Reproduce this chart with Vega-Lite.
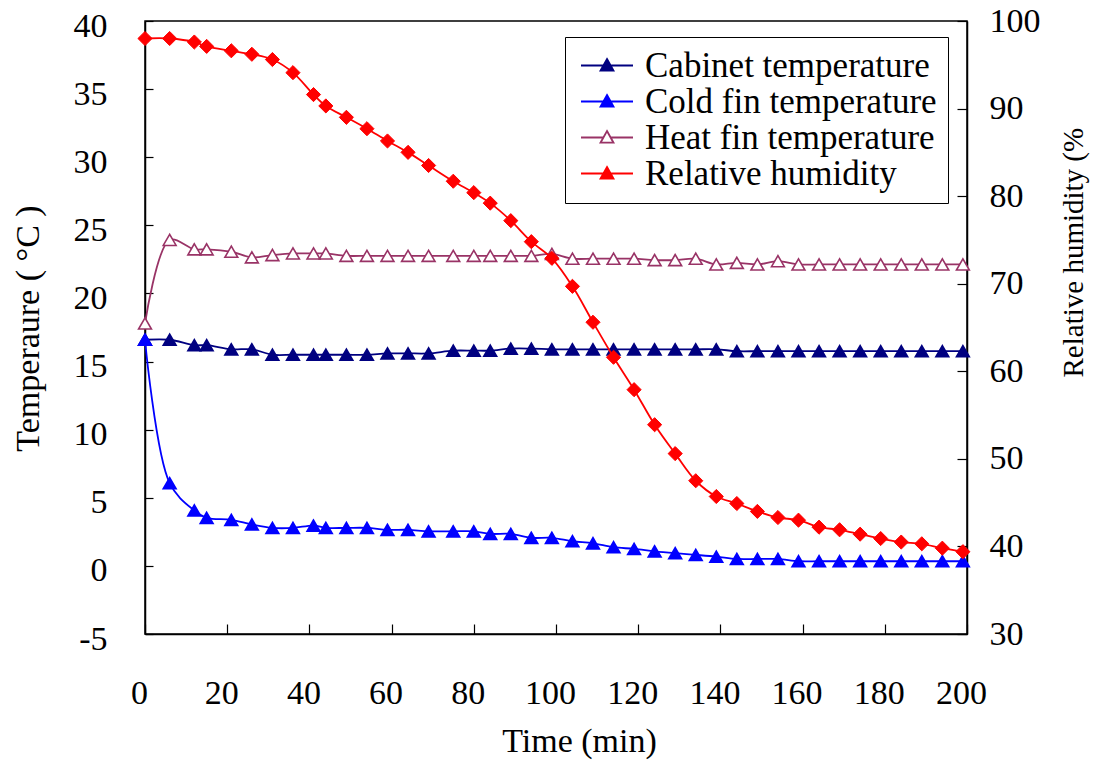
{
  "$schema": "https://vega.github.io/schema/vega-lite/v6.json",
  "width": 822,
  "height": 613,
  "autosize": "none",
  "padding": {"left": 145, "top": 21, "right": 131, "bottom": 126},
  "background": "white",
  "config": {
    "view": {"stroke": "black", "strokeWidth": 1.5},
    "font": "Liberation Serif",
    "axis": {"grid": false, "domainColor": "black", "domainWidth": 1.5, "tickColor": "black", "tickWidth": 1.2, "labelFont": "Liberation Serif", "labelFontSize": 34, "labelColor": "black", "titleFont": "Liberation Serif", "titleFontSize": 34, "titleFontWeight": "normal", "titleColor": "black", "labelFlush": false},
    "legend": {"orient": "none", "legendX": 420, "legendY": 16, "strokeColor": "black", "fillColor": "white", "padding": 11, "symbolOffset": 4, "symbolSize": 2704, "symbolStrokeWidth": 1.8, "symbolType": "M-1,0H-0.14M0.14,0H1M0,-0.25L0.25,0.2L-0.25,0.2Z", "labelFont": "Liberation Serif", "labelFontSize": 35, "labelColor": "black", "labelOffset": 11, "labelLimit": 600, "clipHeight": 35, "rowPadding": 0}
  },
  "data": {"values": [
    {"t": 0, "series": "Cabinet temperature", "value": 16.6},
    {"t": 6, "series": "Cabinet temperature", "value": 16.6},
    {"t": 12, "series": "Cabinet temperature", "value": 16.2},
    {"t": 15, "series": "Cabinet temperature", "value": 16.2},
    {"t": 21, "series": "Cabinet temperature", "value": 15.9},
    {"t": 26, "series": "Cabinet temperature", "value": 15.9},
    {"t": 31, "series": "Cabinet temperature", "value": 15.5},
    {"t": 36, "series": "Cabinet temperature", "value": 15.5},
    {"t": 41, "series": "Cabinet temperature", "value": 15.5},
    {"t": 44, "series": "Cabinet temperature", "value": 15.5},
    {"t": 49, "series": "Cabinet temperature", "value": 15.5},
    {"t": 54, "series": "Cabinet temperature", "value": 15.5},
    {"t": 59, "series": "Cabinet temperature", "value": 15.6},
    {"t": 64, "series": "Cabinet temperature", "value": 15.6},
    {"t": 69, "series": "Cabinet temperature", "value": 15.6},
    {"t": 75, "series": "Cabinet temperature", "value": 15.8},
    {"t": 80, "series": "Cabinet temperature", "value": 15.8},
    {"t": 84, "series": "Cabinet temperature", "value": 15.8},
    {"t": 89, "series": "Cabinet temperature", "value": 15.95},
    {"t": 94, "series": "Cabinet temperature", "value": 15.95},
    {"t": 99, "series": "Cabinet temperature", "value": 15.9},
    {"t": 104, "series": "Cabinet temperature", "value": 15.9},
    {"t": 109, "series": "Cabinet temperature", "value": 15.9},
    {"t": 114, "series": "Cabinet temperature", "value": 15.9},
    {"t": 119, "series": "Cabinet temperature", "value": 15.9},
    {"t": 124, "series": "Cabinet temperature", "value": 15.9},
    {"t": 129, "series": "Cabinet temperature", "value": 15.9},
    {"t": 134, "series": "Cabinet temperature", "value": 15.9},
    {"t": 139, "series": "Cabinet temperature", "value": 15.9},
    {"t": 144, "series": "Cabinet temperature", "value": 15.76},
    {"t": 149, "series": "Cabinet temperature", "value": 15.76},
    {"t": 154, "series": "Cabinet temperature", "value": 15.76},
    {"t": 159, "series": "Cabinet temperature", "value": 15.76},
    {"t": 164, "series": "Cabinet temperature", "value": 15.76},
    {"t": 169, "series": "Cabinet temperature", "value": 15.76},
    {"t": 174, "series": "Cabinet temperature", "value": 15.76},
    {"t": 179, "series": "Cabinet temperature", "value": 15.76},
    {"t": 184, "series": "Cabinet temperature", "value": 15.76},
    {"t": 189, "series": "Cabinet temperature", "value": 15.76},
    {"t": 194, "series": "Cabinet temperature", "value": 15.76},
    {"t": 199, "series": "Cabinet temperature", "value": 15.76},
    {"t": 0, "series": "Cold fin temperature", "value": 16.6},
    {"t": 6, "series": "Cold fin temperature", "value": 6.07},
    {"t": 12, "series": "Cold fin temperature", "value": 4.07},
    {"t": 15, "series": "Cold fin temperature", "value": 3.53},
    {"t": 21, "series": "Cold fin temperature", "value": 3.38},
    {"t": 26, "series": "Cold fin temperature", "value": 3.04},
    {"t": 31, "series": "Cold fin temperature", "value": 2.79},
    {"t": 36, "series": "Cold fin temperature", "value": 2.79},
    {"t": 41, "series": "Cold fin temperature", "value": 2.96},
    {"t": 44, "series": "Cold fin temperature", "value": 2.79},
    {"t": 49, "series": "Cold fin temperature", "value": 2.79},
    {"t": 54, "series": "Cold fin temperature", "value": 2.79},
    {"t": 59, "series": "Cold fin temperature", "value": 2.65},
    {"t": 64, "series": "Cold fin temperature", "value": 2.65},
    {"t": 69, "series": "Cold fin temperature", "value": 2.54},
    {"t": 75, "series": "Cold fin temperature", "value": 2.54},
    {"t": 80, "series": "Cold fin temperature", "value": 2.54},
    {"t": 84, "series": "Cold fin temperature", "value": 2.35},
    {"t": 89, "series": "Cold fin temperature", "value": 2.35},
    {"t": 94, "series": "Cold fin temperature", "value": 2.06},
    {"t": 99, "series": "Cold fin temperature", "value": 2.06},
    {"t": 104, "series": "Cold fin temperature", "value": 1.81},
    {"t": 109, "series": "Cold fin temperature", "value": 1.66},
    {"t": 114, "series": "Cold fin temperature", "value": 1.37},
    {"t": 119, "series": "Cold fin temperature", "value": 1.25},
    {"t": 124, "series": "Cold fin temperature", "value": 1.07},
    {"t": 129, "series": "Cold fin temperature", "value": 0.93},
    {"t": 134, "series": "Cold fin temperature", "value": 0.81},
    {"t": 139, "series": "Cold fin temperature", "value": 0.68},
    {"t": 144, "series": "Cold fin temperature", "value": 0.51},
    {"t": 149, "series": "Cold fin temperature", "value": 0.51},
    {"t": 154, "series": "Cold fin temperature", "value": 0.51},
    {"t": 159, "series": "Cold fin temperature", "value": 0.34},
    {"t": 164, "series": "Cold fin temperature", "value": 0.34},
    {"t": 169, "series": "Cold fin temperature", "value": 0.34},
    {"t": 174, "series": "Cold fin temperature", "value": 0.34},
    {"t": 179, "series": "Cold fin temperature", "value": 0.34},
    {"t": 184, "series": "Cold fin temperature", "value": 0.34},
    {"t": 189, "series": "Cold fin temperature", "value": 0.34},
    {"t": 194, "series": "Cold fin temperature", "value": 0.34},
    {"t": 199, "series": "Cold fin temperature", "value": 0.34},
    {"t": 0, "series": "Heat fin temperature", "value": 17.8},
    {"t": 6, "series": "Heat fin temperature", "value": 23.93},
    {"t": 12, "series": "Heat fin temperature", "value": 23.24},
    {"t": 15, "series": "Heat fin temperature", "value": 23.24},
    {"t": 21, "series": "Heat fin temperature", "value": 23.06},
    {"t": 26, "series": "Heat fin temperature", "value": 22.65},
    {"t": 31, "series": "Heat fin temperature", "value": 22.82},
    {"t": 36, "series": "Heat fin temperature", "value": 22.94},
    {"t": 41, "series": "Heat fin temperature", "value": 22.94},
    {"t": 44, "series": "Heat fin temperature", "value": 22.94},
    {"t": 49, "series": "Heat fin temperature", "value": 22.76},
    {"t": 54, "series": "Heat fin temperature", "value": 22.76},
    {"t": 59, "series": "Heat fin temperature", "value": 22.76},
    {"t": 64, "series": "Heat fin temperature", "value": 22.76},
    {"t": 69, "series": "Heat fin temperature", "value": 22.76},
    {"t": 75, "series": "Heat fin temperature", "value": 22.76},
    {"t": 80, "series": "Heat fin temperature", "value": 22.76},
    {"t": 84, "series": "Heat fin temperature", "value": 22.76},
    {"t": 89, "series": "Heat fin temperature", "value": 22.76},
    {"t": 94, "series": "Heat fin temperature", "value": 22.76},
    {"t": 99, "series": "Heat fin temperature", "value": 22.9},
    {"t": 104, "series": "Heat fin temperature", "value": 22.55},
    {"t": 109, "series": "Heat fin temperature", "value": 22.55},
    {"t": 114, "series": "Heat fin temperature", "value": 22.55},
    {"t": 119, "series": "Heat fin temperature", "value": 22.55},
    {"t": 124, "series": "Heat fin temperature", "value": 22.45},
    {"t": 129, "series": "Heat fin temperature", "value": 22.45},
    {"t": 134, "series": "Heat fin temperature", "value": 22.55},
    {"t": 139, "series": "Heat fin temperature", "value": 22.13},
    {"t": 144, "series": "Heat fin temperature", "value": 22.25},
    {"t": 149, "series": "Heat fin temperature", "value": 22.13},
    {"t": 154, "series": "Heat fin temperature", "value": 22.37},
    {"t": 159, "series": "Heat fin temperature", "value": 22.13},
    {"t": 164, "series": "Heat fin temperature", "value": 22.13},
    {"t": 169, "series": "Heat fin temperature", "value": 22.13},
    {"t": 174, "series": "Heat fin temperature", "value": 22.13},
    {"t": 179, "series": "Heat fin temperature", "value": 22.13},
    {"t": 184, "series": "Heat fin temperature", "value": 22.13},
    {"t": 189, "series": "Heat fin temperature", "value": 22.13},
    {"t": 194, "series": "Heat fin temperature", "value": 22.13},
    {"t": 199, "series": "Heat fin temperature", "value": 22.13},
    {"t": 0, "series": "Relative humidity", "value": 98.0},
    {"t": 6, "series": "Relative humidity", "value": 98.0},
    {"t": 12, "series": "Relative humidity", "value": 97.6},
    {"t": 15, "series": "Relative humidity", "value": 97.1},
    {"t": 21, "series": "Relative humidity", "value": 96.6},
    {"t": 26, "series": "Relative humidity", "value": 96.2},
    {"t": 31, "series": "Relative humidity", "value": 95.6},
    {"t": 36, "series": "Relative humidity", "value": 94.1},
    {"t": 41, "series": "Relative humidity", "value": 91.6},
    {"t": 44, "series": "Relative humidity", "value": 90.3},
    {"t": 49, "series": "Relative humidity", "value": 89.0},
    {"t": 54, "series": "Relative humidity", "value": 87.7},
    {"t": 59, "series": "Relative humidity", "value": 86.3},
    {"t": 64, "series": "Relative humidity", "value": 85.0},
    {"t": 69, "series": "Relative humidity", "value": 83.5},
    {"t": 75, "series": "Relative humidity", "value": 81.7},
    {"t": 80, "series": "Relative humidity", "value": 80.4},
    {"t": 84, "series": "Relative humidity", "value": 79.2},
    {"t": 89, "series": "Relative humidity", "value": 77.2},
    {"t": 94, "series": "Relative humidity", "value": 74.8},
    {"t": 99, "series": "Relative humidity", "value": 72.9},
    {"t": 104, "series": "Relative humidity", "value": 69.7},
    {"t": 109, "series": "Relative humidity", "value": 65.6},
    {"t": 114, "series": "Relative humidity", "value": 61.6},
    {"t": 119, "series": "Relative humidity", "value": 57.9},
    {"t": 124, "series": "Relative humidity", "value": 53.9},
    {"t": 129, "series": "Relative humidity", "value": 50.6},
    {"t": 134, "series": "Relative humidity", "value": 47.5},
    {"t": 139, "series": "Relative humidity", "value": 45.7},
    {"t": 144, "series": "Relative humidity", "value": 44.9},
    {"t": 149, "series": "Relative humidity", "value": 44.0},
    {"t": 154, "series": "Relative humidity", "value": 43.3},
    {"t": 159, "series": "Relative humidity", "value": 43.0},
    {"t": 164, "series": "Relative humidity", "value": 42.2},
    {"t": 169, "series": "Relative humidity", "value": 41.9},
    {"t": 174, "series": "Relative humidity", "value": 41.4},
    {"t": 179, "series": "Relative humidity", "value": 40.9},
    {"t": 184, "series": "Relative humidity", "value": 40.5},
    {"t": 189, "series": "Relative humidity", "value": 40.3},
    {"t": 194, "series": "Relative humidity", "value": 39.8},
    {"t": 199, "series": "Relative humidity", "value": 39.4}
  ]},
  "encoding": {
    "x": {"field": "t", "type": "quantitative",
      "scale": {"domain": [0, 200], "nice": false, "zero": false},
      "axis": {"values": [0, 20, 40, 60, 80, 100, 120, 140, 160, 180, 200], "tickSize": -10, "labelPadding": 52, "labelOffset": -6, "title": "Time (min)", "titleX": 434, "titleY": 107, "titleBaseline": "middle", "titleAnchor": null, "titleAlign": "center"}}
  },
  "layer": [
    {
      "transform": [{"filter": "datum.series !== 'Relative humidity'"}],
      "encoding": {
        "y": {"field": "value", "type": "quantitative",
          "scale": {"domain": [-5, 40], "nice": false, "zero": false},
          "axis": {"orient": "left", "values": [-5, 0, 5, 10, 15, 20, 25, 30, 35, 40], "tickSize": -8, "labelPadding": 46, "labelOffset": 5, "labelExpr": "datum.value < 0 ? '-' + abs(datum.value) : datum.label", "title": "Temperaure ( °C )", "titleX": -117, "titleY": 307, "titleAngle": 270, "titleBaseline": "middle", "titleAlign": "center", "titleAnchor": null}}
      },
      "layer": [
        {"mark": {"type": "line", "interpolate": "catmull-rom", "strokeWidth": 1.8},
         "encoding": {"stroke": {"field": "series", "type": "nominal", "title": null,
           "legend": {"symbolType": "M-1,0H-0.14M0.14,0H1M0,-0.25L0.25,0.2L-0.25,0.2Z"},
           "scale": {"domain": ["Cabinet temperature", "Cold fin temperature", "Heat fin temperature", "Relative humidity"], "range": ["#000080", "#0000ff", "#993366", "#ff0000"]}}}},
        {"mark": {"type": "point", "size": 165, "opacity": 1, "strokeWidth": 1.6},
         "encoding": {
           "stroke": {"field": "series", "type": "nominal", "title": null,
             "legend": {"symbolType": "M-1,0H-0.14M0.14,0H1M0,-0.25L0.25,0.2L-0.25,0.2Z"}},
           "fill": {"field": "series", "type": "nominal", "title": null,
             "scale": {"domain": ["Cabinet temperature", "Cold fin temperature", "Heat fin temperature", "Relative humidity"], "range": ["#000080", "#0000ff", "#ffffff", "#ff0000"]}},
           "shape": {"field": "series", "type": "nominal", "title": null, "legend": null,
             "scale": {"domain": ["Relative humidity", "Cabinet temperature", "Cold fin temperature", "Heat fin temperature"], "range": ["diamond", "triangle-up", "triangle-up", "triangle-up"]}}
         }}
      ]
    },
    {
      "transform": [{"filter": "datum.series === 'Relative humidity'"}],
      "encoding": {
        "y": {"field": "value", "type": "quantitative",
          "scale": {"domain": [30, 100], "nice": false, "zero": false},
          "axis": {"orient": "right", "values": [30, 40, 50, 60, 70, 80, 90, 100], "tickSize": -10, "labelPadding": 32, "title": "Relative humidity (%", "titleFontSize": 29, "titleX": 106, "titleY": 356, "titleAngle": 270, "titleBaseline": "middle", "titleAlign": "left", "titleAnchor": null}}
      },
      "layer": [
        {"mark": {"type": "line", "interpolate": "catmull-rom", "strokeWidth": 1.8},
         "encoding": {"stroke": {"field": "series", "type": "nominal", "title": null,
           "legend": {"symbolType": "M-1,0H-0.14M0.14,0H1M0,-0.25L0.25,0.2L-0.25,0.2Z"}}}},
        {"mark": {"type": "point", "size": 200, "opacity": 1, "strokeWidth": 1},
         "encoding": {
           "stroke": {"field": "series", "type": "nominal", "title": null,
             "legend": {"symbolType": "M-1,0H-0.14M0.14,0H1M0,-0.25L0.25,0.2L-0.25,0.2Z"}},
           "fill": {"field": "series", "type": "nominal", "title": null},
           "shape": {"field": "series", "type": "nominal", "title": null, "legend": null}
         }}
      ]
    }
  ],
  "resolve": {"scale": {"y": "independent"}}
}
